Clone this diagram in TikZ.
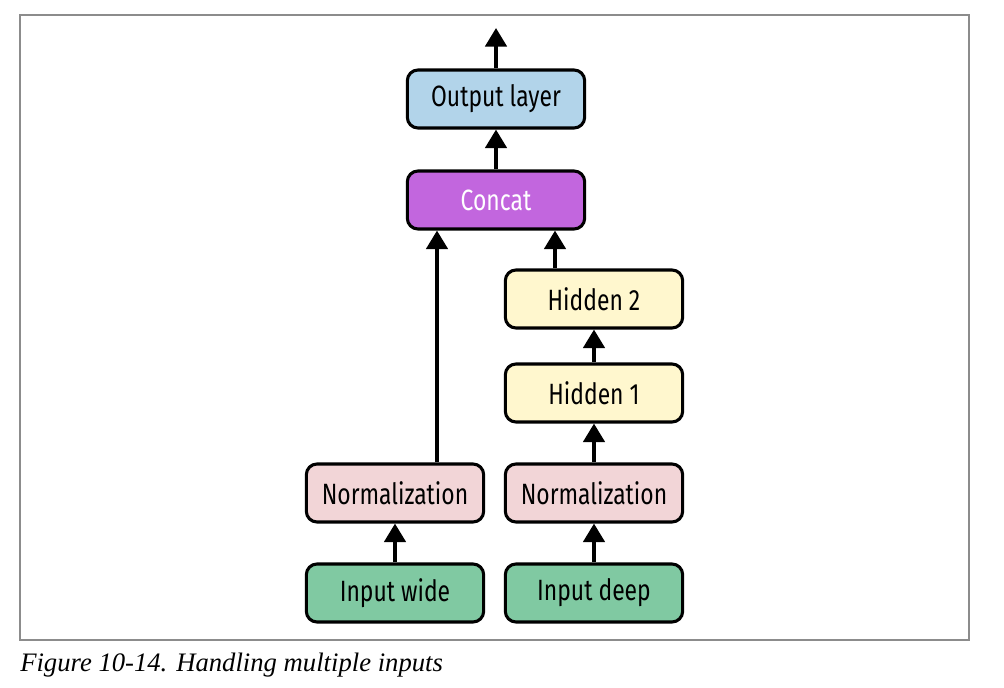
\documentclass[tikz,border=0pt]{standalone}
\usepackage{fontspec}
\setsansfont[FakeStretch=0.78]{Fira Sans}
\setmainfont{Liberation Serif}
\usepackage{tikz}
\usetikzlibrary{arrows.meta}

\definecolor{outblue}{HTML}{B2D4EA}
\definecolor{catpurple}{HTML}{C266DE}
\definecolor{hidyellow}{HTML}{FFF7CE}
\definecolor{normpink}{HTML}{F2D5D7}
\definecolor{ingreen}{HTML}{80C9A2}
\definecolor{framegray}{HTML}{8C8C8C}

\tikzset{
	layer/.style={draw=black, line width=2.3pt, rounded corners=8pt,
		minimum width=133pt, minimum height=43.5pt, inner sep=0pt,
		font=\sffamily\fontsize{22}{26}\selectfont},
	arr/.style={-{Triangle[width=16pt, length=14pt]}, line width=3pt, black}
}

\begin{document}
\begin{tikzpicture}[x=0.75pt, y=-0.75pt]
	\useasboundingbox (0,0) rectangle (1004,688);
	\draw[framegray, line width=0.8pt] (20,15) rectangle (969,640);

	\node[layer, fill=outblue] (out) at (496,99) {Output layer};
	\node[layer, fill=catpurple, text=white] (concat) at (496,200) {Concat};
	\node[layer, fill=hidyellow] (hid2) at (594,299) {Hidden 2};
	\node[layer, fill=hidyellow] (hid1) at (594,393) {Hidden 1};
	\node[layer, fill=normpink] (normw) at (395,493) {Normalization};
	\node[layer, fill=normpink] (normd) at (594,493) {Normalization};
	\node[layer, fill=ingreen] (inw) at (395,593) {Input wide};
	\node[layer, fill=ingreen] (ind) at (594,593) {Input deep};
	\coordinate (top) at (496,28);

	\draw[arr] (out) -- (top);
	\draw[arr] (concat) -- (out);
	\draw[arr] ([xshift=31.5pt]normw.north) -- ([xshift=31.5pt]normw.north |- concat.south);
	\draw[arr] ([xshift=-29.25pt]hid2.north) -- ([xshift=-29.25pt]hid2.north |- concat.south);
	\draw[arr] (hid1) -- (hid2);
	\draw[arr] (normd) -- (hid1);
	\draw[arr] (inw) -- (normw);
	\draw[arr] (ind) -- (normd);

	\node[anchor=west, font=\itshape\fontsize{20}{23}\selectfont, inner sep=0pt] (caption) at (20,665) {Figure 10-14. Handling multiple inputs};
\end{tikzpicture}
\end{document}
